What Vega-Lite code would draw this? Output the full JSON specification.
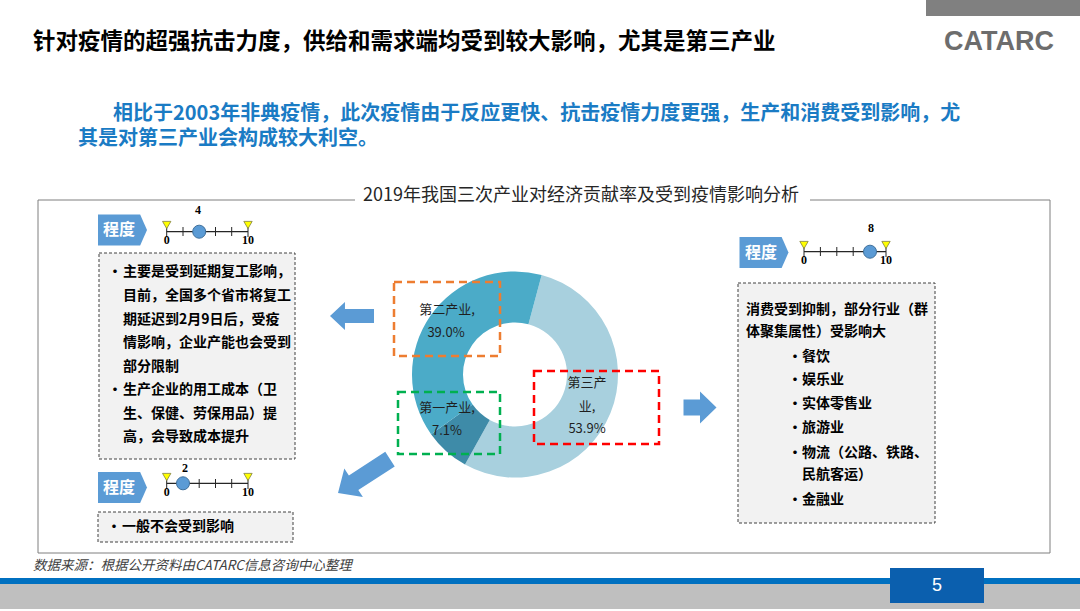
{
  "$schema": "https://vega.github.io/schema/vega-lite/v6.json",
  "autosize": {"type": "fit", "contains": "padding"},
  "width": 1080,
  "height": 611,
  "padding": 0,
  "background": "#ffffff",
  "config": {"view": {"stroke": null}, "text": {"font": "Noto Sans CJK SC"}},
  "datasets": {
    "rects": [
      {"g": "frame", "name": "frame", "x": 38, "x2": 1050, "y": 200, "y2": 553},
      {"g": "solid", "name": "topbar", "x": 926, "x2": 1080, "y": 0, "y2": 16},
      {"g": "solid", "name": "bluebar", "x": 0, "x2": 1080, "y": 578, "y2": 584},
      {"g": "solid", "name": "graybar", "x": 0, "x2": 1080, "y": 584, "y2": 609},
      {"g": "solid", "name": "page", "x": 890, "x2": 984, "y": 568, "y2": 603},
      {"g": "solid", "name": "mask", "x": 355, "x2": 810, "y": 188, "y2": 210},
      {"g": "note", "name": "n1", "x": 99, "x2": 295, "y": 253, "y2": 459},
      {"g": "note", "name": "n2", "x": 98, "x2": 293, "y": 512, "y2": 542},
      {"g": "note", "name": "n3", "x": 738, "x2": 935, "y": 283, "y2": 523},
      {"g": "hl", "name": "第二产业", "x": 394, "x2": 500, "y": 282, "y2": 356},
      {"g": "hl", "name": "第一产业", "x": 398, "x2": 500, "y": 392, "y2": 454},
      {"g": "hl", "name": "第三产业", "x": 534, "x2": 659, "y": 371, "y2": 444}
    ],
    "shares": [
      {"name": "第三产业", "share": 53.9, "from": 0, "to": 53.9},
      {"name": "第一产业", "share": 7.1, "from": 53.9, "to": 61.0},
      {"name": "第二产业", "share": 39.0, "from": 61.0, "to": 100}
    ],
    "pts": [
      {"g": "tag", "x": 122.5, "y": 230},
      {"g": "tag", "x": 122.5, "y": 487.5},
      {"g": "tag", "x": 764, "y": 252.5},
      {"g": "arrowL", "x": 352, "y": 316},
      {"g": "arrowR", "x": 700, "y": 407.5},
      {"g": "arrowDL", "x": 364, "y": 476},
      {"g": "tri", "x": 166.7, "y": 225},
      {"g": "tri", "x": 248, "y": 225},
      {"g": "tri", "x": 166.7, "y": 477},
      {"g": "tri", "x": 248, "y": 477},
      {"g": "tri", "x": 804, "y": 245},
      {"g": "tri", "x": 886, "y": 245},
      {"g": "dot", "x": 199.2, "y": 231.7},
      {"g": "dot", "x": 183, "y": 483.3},
      {"g": "dot", "x": 870, "y": 251.7}
    ],
    "hlines": [
      {"x": 166.7, "x2": 248, "y": 231.7},
      {"x": 166.7, "x2": 248, "y": 483.3},
      {"x": 804, "x2": 886, "y": 251.7}
    ],
    "vticks": [
      {"x": 166.7, "y": 226, "y2": 237}, {"x": 183, "y": 227, "y2": 236}, {"x": 199.2, "y": 227, "y2": 236}, {"x": 215.5, "y": 227, "y2": 236}, {"x": 231.7, "y": 227, "y2": 236}, {"x": 248, "y": 226, "y2": 237},
      {"x": 166.7, "y": 478, "y2": 489}, {"x": 183, "y": 479, "y2": 488}, {"x": 199.2, "y": 479, "y2": 488}, {"x": 215.5, "y": 479, "y2": 488}, {"x": 231.7, "y": 479, "y2": 488}, {"x": 248, "y": 478, "y2": 489},
      {"x": 804, "y": 246, "y2": 257}, {"x": 820.4, "y": 247, "y2": 256}, {"x": 836.8, "y": 247, "y2": 256}, {"x": 853.2, "y": 247, "y2": 256}, {"x": 869.6, "y": 247, "y2": 256}, {"x": 886, "y": 246, "y2": 257}
    ],
    "texts": [
      {"g": "title", "x": 33, "y": 42, "t": "针对疫情的超强抗击力度，供给和需求端均受到较大影响，尤其是第三产业"},
      {"g": "logo", "x": 999, "y": 42, "t": "CATARC"},
      {"g": "sub", "x": 113, "y": 114, "t": "相比于2003年非典疫情，此次疫情由于反应更快、抗击疫情力度更强，生产和消费受到影响，尤"},
      {"g": "sub", "x": 78, "y": 139, "t": "其是对第三产业会构成较大利空。"},
      {"g": "ctitle", "x": 581, "y": 196, "t": "2019年我国三次产业对经济贡献率及受到疫情影响分析"},
      {"g": "body", "x": 108, "y": 272, "t": "•"},
      {"g": "body", "x": 123, "y": 272, "t": "主要是受到延期复工影响，"},
      {"g": "body", "x": 123, "y": 296, "t": "目前，全国多个省市将复工"},
      {"g": "body", "x": 123, "y": 319.5, "t": "期延迟到2月9日后，受疫"},
      {"g": "body", "x": 123, "y": 343, "t": "情影响，企业产能也会受到"},
      {"g": "body", "x": 123, "y": 366.5, "t": "部分限制"},
      {"g": "body", "x": 108, "y": 390, "t": "•"},
      {"g": "body", "x": 123, "y": 390, "t": "生产企业的用工成本（卫"},
      {"g": "body", "x": 123, "y": 413.5, "t": "生、保健、劳保用品）提"},
      {"g": "body", "x": 123, "y": 437, "t": "高，会导致成本提升"},
      {"g": "body", "x": 107, "y": 527, "t": "•"},
      {"g": "body", "x": 122, "y": 527, "t": "一般不会受到影响"},
      {"g": "body", "x": 746, "y": 310, "t": "消费受到抑制，部分行业（群"},
      {"g": "body", "x": 746, "y": 332, "t": "体聚集属性）受影响大"},
      {"g": "body", "x": 788, "y": 356.7, "t": "•"},
      {"g": "body", "x": 802, "y": 356.7, "t": "餐饮"},
      {"g": "body", "x": 788, "y": 380, "t": "•"},
      {"g": "body", "x": 802, "y": 380, "t": "娱乐业"},
      {"g": "body", "x": 788, "y": 404, "t": "•"},
      {"g": "body", "x": 802, "y": 404, "t": "实体零售业"},
      {"g": "body", "x": 788, "y": 428, "t": "•"},
      {"g": "body", "x": 802, "y": 428, "t": "旅游业"},
      {"g": "body", "x": 788, "y": 452.7, "t": "•"},
      {"g": "body", "x": 802, "y": 452.7, "t": "物流（公路、铁路、"},
      {"g": "body", "x": 802, "y": 475, "t": "民航客运）"},
      {"g": "body", "x": 788, "y": 500, "t": "•"},
      {"g": "body", "x": 802, "y": 500, "t": "金融业"},
      {"g": "tag", "x": 119, "y": 230, "t": "程度"},
      {"g": "tag", "x": 119, "y": 487.5, "t": "程度"},
      {"g": "tag", "x": 761, "y": 252.5, "t": "程度"},
      {"g": "num", "x": 198, "y": 210, "t": "4"},
      {"g": "num", "x": 166.7, "y": 240, "t": "0"},
      {"g": "num", "x": 248, "y": 240, "t": "10"},
      {"g": "num", "x": 185, "y": 468, "t": "2"},
      {"g": "num", "x": 166.7, "y": 492, "t": "0"},
      {"g": "num", "x": 248, "y": 492, "t": "10"},
      {"g": "num", "x": 871, "y": 228, "t": "8"},
      {"g": "num", "x": 804, "y": 260, "t": "0"},
      {"g": "num", "x": 886, "y": 260, "t": "10"},
      {"g": "pie", "x": 447, "y": 310, "t": "第二产业,"},
      {"g": "pie", "x": 446, "y": 333, "t": "39.0%"},
      {"g": "pie", "x": 447, "y": 408, "t": "第一产业,"},
      {"g": "pie", "x": 447, "y": 431, "t": "7.1%"},
      {"g": "pie", "x": 587, "y": 383, "t": "第三产"},
      {"g": "pie", "x": 587, "y": 407, "t": "业,"},
      {"g": "pie", "x": 587, "y": 429, "t": "53.9%"},
      {"g": "foot", "x": 33, "y": 566, "t": "数据来源：根据公开资料由CATARC信息咨询中心整理"},
      {"g": "page", "x": 937, "y": 586, "t": "5"}
    ]
  },
  "layer": [
    {
      "data": {"name": "rects"},
      "transform": [{"filter": "datum.g == 'frame'"}],
      "mark": {"type": "rect", "filled": false, "stroke": "#7f7f7f", "strokeWidth": 1},
      "encoding": {
        "x": {"field": "x", "type": "quantitative", "scale": {"domain": [0, 1080], "nice": false, "zero": false}, "axis": null},
        "y": {"field": "y", "type": "quantitative", "scale": {"domain": [0, 611], "nice": false, "zero": false, "reverse": true}, "axis": null},
        "x2": {"field": "x2"}, "y2": {"field": "y2"}
      }
    },
    {
      "data": {"name": "shares"},
      "mark": {"type": "arc", "outerRadius": 103, "innerRadius": 52},
      "encoding": {
        "x": {"datum": 515},
        "y": {"datum": 374.5},
        "theta": {"field": "to", "type": "quantitative", "scale": {"domain": [0, 100], "range": [0.2618, 6.545]}},
        "theta2": {"field": "from"},
        "color": {"field": "name", "type": "nominal", "legend": null,
          "scale": {"domain": ["第三产业", "第一产业", "第二产业"], "range": ["#a8d0de", "#3e8ba8", "#4babc8"]}}
      }
    },
    {
      "data": {"name": "rects"},
      "transform": [{"filter": "datum.g == 'solid'"}],
      "mark": {"type": "rect"},
      "encoding": {
        "x": {"field": "x", "type": "quantitative"},
        "y": {"field": "y", "type": "quantitative"},
        "x2": {"field": "x2"}, "y2": {"field": "y2"},
        "fill": {"field": "name", "type": "nominal", "legend": null,
          "scale": {"domain": ["topbar", "bluebar", "graybar", "page", "mask"], "range": ["#808080", "#0070c0", "#bfbfbf", "#0b5fae", "#ffffff"]}}
      }
    },
    {
      "data": {"name": "rects"},
      "transform": [{"filter": "datum.g == 'note'"}],
      "mark": {"type": "rect", "fill": "#f2f2f2", "stroke": "#404040", "strokeWidth": 1, "strokeDash": [3, 2]},
      "encoding": {"x": {"field": "x", "type": "quantitative"}, "y": {"field": "y", "type": "quantitative"}, "x2": {"field": "x2"}, "y2": {"field": "y2"}}
    },
    {
      "data": {"name": "pts"},
      "transform": [{"filter": "datum.g == 'tag'"}],
      "mark": {"type": "point", "filled": true, "opacity": 1, "color": "#5b9bd5", "size": 2401,
        "shape": "M-1,-0.633 L0.72,-0.633 L1,0 L0.72,0.633 L-1,0.633 Z"},
      "encoding": {"x": {"field": "x", "type": "quantitative"}, "y": {"field": "y", "type": "quantitative"}}
    },
    {
      "data": {"name": "pts"},
      "transform": [{"filter": "datum.g == 'arrowL'"}],
      "mark": {"type": "point", "filled": true, "opacity": 1, "color": "#5b9bd5", "size": 1936,
        "shape": "M-1,0 L-0.32,-0.64 L-0.32,-0.32 L1,-0.32 L1,0.32 L-0.32,0.32 L-0.32,0.64 Z"},
      "encoding": {"x": {"field": "x", "type": "quantitative"}, "y": {"field": "y", "type": "quantitative"}}
    },
    {
      "data": {"name": "pts"},
      "transform": [{"filter": "datum.g == 'arrowR'"}],
      "mark": {"type": "point", "filled": true, "opacity": 1, "color": "#5b9bd5", "size": 1089,
        "shape": "M1,0 L0,-0.97 L0,-0.48 L-1,-0.48 L-1,0.48 L0,0.48 L0,0.97 Z"},
      "encoding": {"x": {"field": "x", "type": "quantitative"}, "y": {"field": "y", "type": "quantitative"}}
    },
    {
      "data": {"name": "pts"},
      "transform": [{"filter": "datum.g == 'arrowDL'"}],
      "mark": {"type": "point", "filled": true, "opacity": 1, "color": "#5b9bd5", "size": 3844, "angle": 327,
        "shape": "M-1,0 L-0.4,-0.55 L-0.4,-0.28 L1,-0.28 L1,0.28 L-0.4,0.28 L-0.4,0.55 Z"},
      "encoding": {"x": {"field": "x", "type": "quantitative"}, "y": {"field": "y", "type": "quantitative"}}
    },
    {
      "data": {"name": "rects"},
      "transform": [{"filter": "datum.g == 'hl'"}],
      "mark": {"type": "rect", "filled": false, "strokeWidth": 2.5, "strokeDash": [8, 5]},
      "encoding": {
        "x": {"field": "x", "type": "quantitative"}, "y": {"field": "y", "type": "quantitative"},
        "x2": {"field": "x2"}, "y2": {"field": "y2"},
        "stroke": {"field": "name", "type": "nominal", "legend": null,
          "scale": {"domain": ["第二产业", "第一产业", "第三产业"], "range": ["#ed7d31", "#00b050", "#ff0000"]}}
      }
    },
    {
      "data": {"name": "hlines"},
      "mark": {"type": "rule", "color": "#262626", "strokeWidth": 1.2},
      "encoding": {"x": {"field": "x", "type": "quantitative"}, "y": {"field": "y", "type": "quantitative"}, "x2": {"field": "x2"}}
    },
    {
      "data": {"name": "vticks"},
      "mark": {"type": "rule", "color": "#262626", "strokeWidth": 1},
      "encoding": {"x": {"field": "x", "type": "quantitative"}, "y": {"field": "y", "type": "quantitative"}, "y2": {"field": "y2"}}
    },
    {
      "data": {"name": "pts"},
      "transform": [{"filter": "datum.g == 'tri'"}],
      "mark": {"type": "point", "shape": "triangle-down", "filled": true, "opacity": 1, "fill": "#ffff00", "stroke": "#7f7f3f", "strokeWidth": 0.8, "size": 70},
      "encoding": {"x": {"field": "x", "type": "quantitative"}, "y": {"field": "y", "type": "quantitative"}}
    },
    {
      "data": {"name": "pts"},
      "transform": [{"filter": "datum.g == 'dot'"}],
      "mark": {"type": "point", "shape": "circle", "filled": true, "opacity": 1, "fill": "#5b9bd5", "stroke": "#41719c", "strokeWidth": 1, "size": 170},
      "encoding": {"x": {"field": "x", "type": "quantitative"}, "y": {"field": "y", "type": "quantitative"}}
    },
    {
      "data": {"name": "texts"},
      "transform": [{"filter": "datum.g == 'title'"}],
      "mark": {"type": "text", "align": "left", "baseline": "middle", "fontSize": 22.5, "fontWeight": "bold", "color": "#000000"},
      "encoding": {"x": {"field": "x", "type": "quantitative"}, "y": {"field": "y", "type": "quantitative"}, "text": {"field": "t"}}
    },
    {
      "data": {"name": "texts"},
      "transform": [{"filter": "datum.g == 'logo'"}],
      "mark": {"type": "text", "align": "center", "baseline": "middle", "fontSize": 27, "fontWeight": "bold", "font": "Liberation Sans", "color": "#6d6d6d"},
      "encoding": {"x": {"field": "x", "type": "quantitative"}, "y": {"field": "y", "type": "quantitative"}, "text": {"field": "t"}}
    },
    {
      "data": {"name": "texts"},
      "transform": [{"filter": "datum.g == 'sub'"}],
      "mark": {"type": "text", "align": "left", "baseline": "middle", "fontSize": 20, "fontWeight": "bold", "color": "#1a7bc4"},
      "encoding": {"x": {"field": "x", "type": "quantitative"}, "y": {"field": "y", "type": "quantitative"}, "text": {"field": "t"}}
    },
    {
      "data": {"name": "texts"},
      "transform": [{"filter": "datum.g == 'ctitle'"}],
      "mark": {"type": "text", "align": "center", "baseline": "middle", "fontSize": 18, "color": "#262626"},
      "encoding": {"x": {"field": "x", "type": "quantitative"}, "y": {"field": "y", "type": "quantitative"}, "text": {"field": "t"}}
    },
    {
      "data": {"name": "texts"},
      "transform": [{"filter": "datum.g == 'body'"}],
      "mark": {"type": "text", "align": "left", "baseline": "middle", "fontSize": 14, "fontWeight": "bold", "color": "#000000"},
      "encoding": {"x": {"field": "x", "type": "quantitative"}, "y": {"field": "y", "type": "quantitative"}, "text": {"field": "t"}}
    },
    {
      "data": {"name": "texts"},
      "transform": [{"filter": "datum.g == 'tag'"}],
      "mark": {"type": "text", "align": "center", "baseline": "middle", "fontSize": 16, "fontWeight": "bold", "color": "#ffffff"},
      "encoding": {"x": {"field": "x", "type": "quantitative"}, "y": {"field": "y", "type": "quantitative"}, "text": {"field": "t"}}
    },
    {
      "data": {"name": "texts"},
      "transform": [{"filter": "datum.g == 'num'"}],
      "mark": {"type": "text", "align": "center", "baseline": "middle", "fontSize": 12, "fontWeight": "bold", "font": "Liberation Serif", "color": "#000000"},
      "encoding": {"x": {"field": "x", "type": "quantitative"}, "y": {"field": "y", "type": "quantitative"}, "text": {"field": "t"}}
    },
    {
      "data": {"name": "texts"},
      "transform": [{"filter": "datum.g == 'pie'"}],
      "mark": {"type": "text", "align": "center", "baseline": "middle", "fontSize": 13, "color": "#1f1f1f"},
      "encoding": {"x": {"field": "x", "type": "quantitative"}, "y": {"field": "y", "type": "quantitative"}, "text": {"field": "t"}}
    },
    {
      "data": {"name": "texts"},
      "transform": [{"filter": "datum.g == 'foot'"}],
      "mark": {"type": "text", "align": "left", "baseline": "middle", "fontSize": 13.5, "fontStyle": "italic", "color": "#404040"},
      "encoding": {"x": {"field": "x", "type": "quantitative"}, "y": {"field": "y", "type": "quantitative"}, "text": {"field": "t"}}
    },
    {
      "data": {"name": "texts"},
      "transform": [{"filter": "datum.g == 'page'"}],
      "mark": {"type": "text", "align": "center", "baseline": "middle", "fontSize": 18, "font": "Liberation Sans", "color": "#ffffff"},
      "encoding": {"x": {"field": "x", "type": "quantitative"}, "y": {"field": "y", "type": "quantitative"}, "text": {"field": "t"}}
    }
  ]
}
